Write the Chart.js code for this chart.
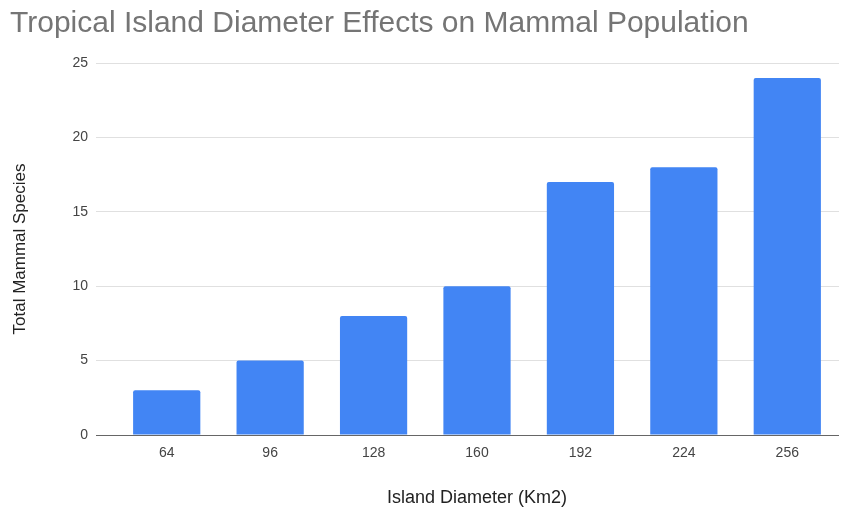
<!DOCTYPE html>
<html>
<head>
<meta charset="utf-8">
<script src="https://cdn.jsdelivr.net/npm/chart.js@4"></script>
<style>
  html, body { margin: 0; padding: 0; background: #fff; }
  #wrap { width: 851px; height: 514px; }
</style>
</head>
<body>
<div id="wrap"><canvas id="chart"></canvas></div>
<script>
// island diameters and mammal counts
const diameters = ['64', '96', '128', '160', '192', '224', '256'];
const species = [3, 5, 8, 10, 17, 18, 24];
const yTicks = [0, 5, 10, 15, 20, 25];

const font = 'Liberation Sans, Arial, sans-serif';

const ctx = document.getElementById('chart').getContext('2d');
new Chart(ctx, {
    type: 'bar',
    data: {
        labels: diameters,
        datasets: [{
            label: 'Total Mammal Species',
            data: species,
            backgroundColor: '#4285f4',
            borderRadius: { topLeft: 2, topRight: 2 },
            borderSkipped: 'start',
            categoryPercentage: 1,
            barPercentage: 0.65,
        }],
    },
    options: {
        responsive: true,
        maintainAspectRatio: false,
        animation: false,
        layout: { padding: { left: 10, right: 12, top: 0, bottom: 0 } },
        plugins: {
            legend: { display: false },
            tooltip: { enabled: false },
            title: {
                display: true,
                text: 'Tropical Island Diameter Effects on Mammal Population',
                align: 'start',
                color: '#757575',
                font: { family: font, size: 30, weight: 'normal' },
                padding: { top: 6, bottom: 21 },
            },
        },
        scales: {
            x: {
                grid: { display: false, drawTicks: false },
                border: { display: false },
                ticks: { color: '#444', padding: 10, font: { family: font, size: 14 } },
                title: {
                    display: true,
                    text: 'Island Diameter (Km2)',
                    color: '#222',
                    font: { family: font, size: 18 },
                    padding: { top: 0, bottom: 5 },
                },
                afterFit: (scale) => { scale.height = 79; },
            },
            y: {
                min: 0,
                max: 25,
                afterBuildTicks: (scale) => { scale.ticks = yTicks.map(v => ({ value: v })); },
                grid: {
                    drawTicks: true,
                    tickLength: 19,
                    color: (c) => (c.tick && c.tick.value === 0 ? '#666' : '#e0e0e0'),
                },
                border: { display: false },
                ticks: { color: '#444', padding: 8, font: { family: font, size: 14 } },
                title: {
                    display: true,
                    text: 'Total Mammal Species',
                    color: '#222',
                    font: { family: font, size: 17 },
                    padding: { top: 0, bottom: 0 },
                },
                afterFit: (scale) => { scale.width = 105; },
            },
        },
    },
});
</script>
</body>
</html>
